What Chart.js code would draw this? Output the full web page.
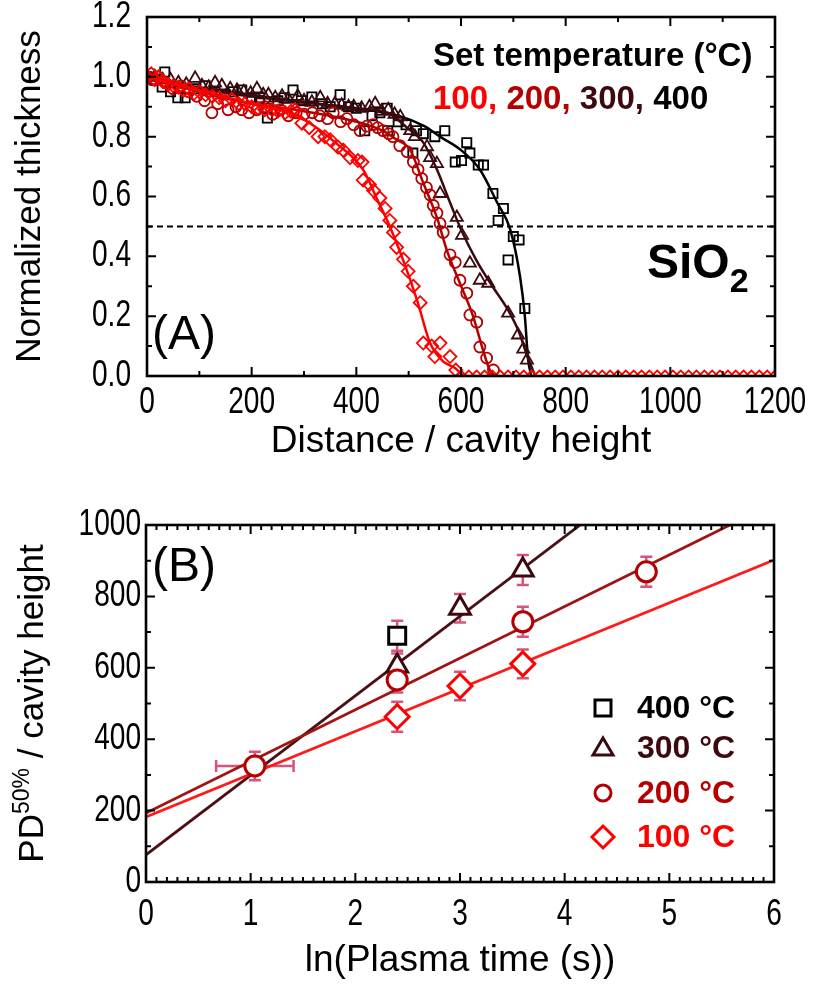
<!DOCTYPE html>
<html>
<head>
<meta charset="utf-8">
<script src="https://cdn.jsdelivr.net/npm/chart.js@4.4.0/dist/chart.umd.min.js"></script>
<style>
  html, body { margin: 0; padding: 0; background: #fff; }
  #wrapA { position: absolute; left: 0; top: 0; width: 819px; height: 470px; }
  #wrapB { position: absolute; left: 0; top: 470px; width: 819px; height: 522px; }
</style>
</head>
<body>
<div id="wrapA"><canvas id="chartA"></canvas></div>
<div id="wrapB"><canvas id="chartB"></canvas></div>
<script>
// -- Colours per set temperature --
const c100 = '#ff0000';
const c200 = '#b40000';
const c300 = '#3c0a0e';
const c400 = '#000000';
const cErr = 'rgba(205, 40, 90, 0.8)';

// -- Panel A: normalized thickness vs distance --
const a100X = [0, 8, 15, 22, 30, 40, 50, 60, 70, 80, 90, 100, 112, 125, 138, 150, 162, 175, 187, 200, 212, 225, 239, 250, 264, 275, 283, 296, 310, 327, 340, 350, 365, 375, 388, 403, 411, 413, 425, 433, 445, 455, 464, 471, 477, 490, 499, 509, 522, 528, 544, 550, 560, 579, 590];
const a100Y = [1.00, 1.01, 0.99, 1.00, 0.985, 0.975, 0.97, 0.965, 0.955, 0.96, 0.945, 0.95, 0.94, 0.935, 0.93, 0.92, 0.925, 0.91, 0.91, 0.90, 0.895, 0.89, 0.89, 0.885, 0.88, 0.885, 0.89, 0.845, 0.83, 0.80, 0.80, 0.79, 0.765, 0.755, 0.73, 0.72, 0.715, 0.655, 0.64, 0.62, 0.595, 0.56, 0.52, 0.48, 0.43, 0.39, 0.35, 0.30, 0.245, 0.11, 0.10, 0.065, 0.11, 0.065, 0.02];

const a200X = [0, 10, 20, 35, 50, 65, 80, 95, 110, 124, 135, 155, 170, 181, 195, 210, 225, 240, 255, 270, 285, 300, 316, 330, 345, 356, 370, 382, 395, 407, 420, 432, 441, 451, 462, 470, 483, 497, 509, 518, 525, 534, 541, 547, 554, 560, 566, 579, 589, 598, 611, 617, 630, 636, 649, 662];
const a200Y = [1.00, 0.99, 1.00, 0.98, 0.96, 0.97, 0.95, 0.935, 0.92, 0.88, 0.91, 0.89, 0.90, 0.89, 0.88, 0.89, 0.90, 0.875, 0.89, 0.87, 0.88, 0.875, 0.88, 0.87, 0.86, 0.88, 0.85, 0.86, 0.84, 0.82, 0.835, 0.84, 0.83, 0.82, 0.81, 0.80, 0.77, 0.75, 0.715, 0.69, 0.66, 0.63, 0.605, 0.57, 0.545, 0.51, 0.48, 0.405, 0.38, 0.32, 0.277, 0.204, 0.18, 0.097, 0.06, 0.02];

const a300X = [0, 15, 30, 45, 60, 75, 92, 105, 118, 130, 143, 159, 172, 185, 198, 210, 222, 232, 245, 258, 270, 288, 300, 315, 331, 345, 359, 372, 385, 395, 410, 425, 436, 448, 461, 473, 484, 503, 512, 535, 541, 554, 560, 592, 602, 617, 636, 652, 690, 709, 719, 726];
const a300Y = [1.00, 1.00, 0.99, 0.99, 0.98, 0.975, 0.995, 0.97, 0.965, 0.98, 0.97, 0.96, 0.955, 0.95, 0.945, 0.96, 0.94, 0.94, 0.93, 0.935, 0.925, 0.935, 0.92, 0.915, 0.93, 0.91, 0.91, 0.905, 0.90, 0.90, 0.895, 0.90, 0.91, 0.885, 0.89, 0.875, 0.866, 0.82, 0.80, 0.766, 0.73, 0.71, 0.61, 0.53, 0.47, 0.377, 0.32, 0.31, 0.21, 0.137, 0.09, 0.053];

const a400X = [0, 15, 29, 34, 45, 59, 73, 90, 111, 130, 150, 165, 181, 200, 215, 229, 230, 250, 262, 279, 295, 315, 335, 350, 369, 385, 400, 416, 430, 445, 459, 460, 480, 495, 508, 515, 528, 550, 569, 589, 601, 611, 617, 633, 643, 661, 671, 681, 690, 700, 711, 722];
const a400Y = [1.00, 0.99, 0.966, 1.016, 0.95, 0.93, 0.93, 0.96, 0.97, 0.95, 0.94, 0.95, 0.956, 0.93, 0.93, 0.895, 0.862, 0.92, 0.93, 0.956, 0.92, 0.933, 0.91, 0.90, 0.94, 0.90, 0.895, 0.82, 0.87, 0.88, 0.895, 0.82, 0.85, 0.84, 0.745, 0.82, 0.81, 0.80, 0.82, 0.715, 0.72, 0.78, 0.745, 0.705, 0.705, 0.61, 0.52, 0.56, 0.388, 0.466, 0.455, 0.226];

// fully etched region (points sitting on zero)
const zeroX = [600, 615, 630, 645, 660, 675, 690, 705, 720, 735, 750, 765, 780, 795, 810, 825, 840, 855, 870, 885, 900, 915, 930, 945, 960, 975, 990, 1005, 1020, 1035, 1050, 1065, 1080, 1095, 1110, 1125, 1140, 1155, 1170, 1185, 1200];
const zeroY = [0, 0, 0, 0, 0, 0, 0, 0, 0, 0, 0, 0, 0, 0, 0, 0, 0, 0, 0, 0, 0, 0, 0, 0, 0, 0, 0, 0, 0, 0, 0, 0, 0, 0, 0, 0, 0, 0, 0, 0, 0];

// fitted curves
const f100X = [0, 100, 200, 280, 320, 360, 413, 440, 464, 490, 516, 541, 565, 589, 605];
const f100Y = [1.0, 0.955, 0.91, 0.875, 0.835, 0.78, 0.69, 0.59, 0.50, 0.385, 0.254, 0.11, 0.05, 0.026, 0.0];
const f200X = [0, 100, 200, 300, 400, 450, 477, 503, 528, 554, 573, 598, 623, 642, 655, 665];
const f200Y = [1.0, 0.95, 0.91, 0.885, 0.85, 0.82, 0.79, 0.755, 0.645, 0.53, 0.42, 0.31, 0.20, 0.087, 0.02, 0.0];
const f300X = [0, 100, 200, 300, 400, 460, 497, 528, 554, 579, 600, 630, 660, 690, 710, 728, 742];
const f300Y = [1.0, 0.965, 0.94, 0.915, 0.895, 0.88, 0.83, 0.78, 0.69, 0.58, 0.49, 0.385, 0.30, 0.22, 0.15, 0.06, 0.0];
const f400X = [0, 100, 200, 300, 400, 480, 530, 560, 600, 636, 669, 694, 713, 722, 728, 734];
const f400Y = [1.0, 0.96, 0.935, 0.915, 0.895, 0.87, 0.835, 0.80, 0.755, 0.69, 0.58, 0.49, 0.33, 0.20, 0.06, 0.0];

const xTicksA = [0, 200, 400, 600, 800, 1000, 1200];
const xLabelsA = ['0', '200', '400', '600', '800', '1000', '1200'];
const yTicksA = [0, 0.2, 0.4, 0.6, 0.8, 1.0, 1.2];
const yLabelsA = ['0.0', '0.2', '0.4', '0.6', '0.8', '1.0', '1.2'];

// -- Panel B: PD50% vs ln(plasma time) --
const b400X = [2.4];
const b400Y = [690];
const b400E = [42];
const b300X = [2.4, 3.0, 3.6];
const b300Y = [605, 767, 874];
const b300E = [35, 40, 42];
const b200X = [1.04, 2.4, 3.6, 4.78];
const b200Y = [325, 566, 729, 869];
const b200E = [40, 35, 42, 42];
const b200XE = [0.37, 0, 0, 0];
const b100X = [2.4, 3.0, 3.6];
const b100Y = [463, 549, 611];
const b100E = [42, 40, 40];

// linear fits, endpoints at ln t = 0 and 6
const fitX = [0, 6];
const fit300Y = [76, 1413];
const fit200Y = [193, 1061];
const fit100Y = [182, 902];

const xTicksB = [0, 1, 2, 3, 4, 5, 6];
const xLabelsB = ['0', '1', '2', '3', '4', '5', '6'];
const yTicksB = [0, 200, 400, 600, 800, 1000];
const yLabelsB = ['0', '200', '400', '600', '800', '1000'];

const legendB = ['400 °C', '300 °C', '200 °C', '100 °C'];

// -- Fonts --
const SANS = "'Liberation Sans', Arial, sans-serif";
const titleFont = { family: SANS, size: 37 };
const TICK_FONT = '36px ' + SANS;
const TICK_SQUEEZE = 0.78; // narrow digits like the original

function pts(xs, ys) {
    return xs.map((x, i) => ({ x: x, y: ys[i] }));
}

function minorTicks(min, max, step, majors) {
    const out = [];
    for (let v = min; v <= max + 1e-9; v += step) {
        const r = Math.round(v * 1000) / 1000;
        if (!majors.some(m => Math.abs(m - r) < 1e-6)) out.push(r);
    }
    return out;
}

function squeezedText(ctx, text, x, y, align) {
    ctx.save();
    ctx.translate(x, y);
    ctx.scale(TICK_SQUEEZE, 1);
    ctx.textAlign = align;
    ctx.fillText(text, 0, 0);
    ctx.restore();
}

// frame with inward ticks on all four sides, plus tick labels
function framePlugin(cfg) {
    return {
        id: 'frame',
        afterDatasetsDraw(chart) {
            const { ctx, chartArea: a, scales } = chart;
            const sx = scales.x, sy = scales.y;
            ctx.save();
            ctx.strokeStyle = '#000';
            ctx.lineWidth = 2;
            ctx.beginPath();
            const vt = (v, len) => {
                const p = sx.getPixelForValue(v);
                ctx.moveTo(p, a.bottom); ctx.lineTo(p, a.bottom - len);
                ctx.moveTo(p, a.top); ctx.lineTo(p, a.top + len);
            };
            const ht = (v, len) => {
                const p = sy.getPixelForValue(v);
                ctx.moveTo(a.left, p); ctx.lineTo(a.left + len, p);
                ctx.moveTo(a.right, p); ctx.lineTo(a.right - len, p);
            };
            cfg.xMaj.forEach(v => vt(v, 9));
            cfg.xMin.forEach(v => vt(v, 5));
            cfg.yMaj.forEach(v => ht(v, 9));
            cfg.yMin.forEach(v => ht(v, 5));
            ctx.stroke();
            ctx.lineWidth = 2.6;
            ctx.strokeRect(a.left, a.top, a.right - a.left, a.bottom - a.top);

            ctx.fillStyle = '#000';
            ctx.font = TICK_FONT;
            ctx.textBaseline = 'middle';
            cfg.xMaj.forEach((v, i) => {
                squeezedText(ctx, cfg.xLab[i], sx.getPixelForValue(v), a.bottom + cfg.xGap, 'center');
            });
            cfg.yMaj.forEach((v, i) => {
                squeezedText(ctx, cfg.yLab[i], a.left - cfg.yGap, sy.getPixelForValue(v), 'right');
            });
            ctx.restore();
        }
    };
}

function fixedTicks(values) {
    return function (axis) { axis.ticks = values.map(v => ({ value: v })); };
}

function marker(color, style, r, bw, fill) {
    return {
        showLine: false,
        pointStyle: style,
        pointRadius: r,
        pointBorderWidth: bw,
        pointBorderColor: color,
        pointBackgroundColor: fill,
        borderColor: color,
        backgroundColor: fill
    };
}

function fitLine(color, width, smooth) {
    return {
        showLine: true,
        pointRadius: 0,
        borderColor: color,
        borderWidth: width,
        cubicInterpolationMode: smooth ? 'monotone' : 'default',
        fill: false
    };
}

// -- Panel A --
const annotA = {
    id: 'annotA',
    beforeDatasetsDraw(chart) {
        const { ctx, chartArea: a, scales } = chart;
        const py = scales.y.getPixelForValue(0.5);
        ctx.save();
        ctx.strokeStyle = '#000';
        ctx.lineWidth = 2;
        ctx.setLineDash([6, 4]);
        ctx.beginPath();
        ctx.moveTo(a.left, py);
        ctx.lineTo(a.right, py);
        ctx.stroke();
        ctx.restore();
    },
    afterDraw(chart) {
        const ctx = chart.ctx;
        ctx.save();
        ctx.textBaseline = 'alphabetic';
        ctx.textAlign = 'left';
        ctx.fillStyle = '#000';
        ctx.font = 'bold 33px ' + SANS;
        ctx.fillText('Set temperature (°C)', 433, 66);
        const parts = [['100, ', c100], ['200, ', c200], ['300, ', c300], ['400', c400]];
        let x = 433;
        parts.forEach(p => {
            ctx.fillStyle = p[1];
            ctx.fillText(p[0], x, 109);
            x += ctx.measureText(p[0]).width;
        });
        ctx.fillStyle = '#000';
        ctx.font = 'bold 48px ' + SANS;
        ctx.fillText('SiO', 647, 278);
        const w = ctx.measureText('SiO').width;
        ctx.font = 'bold 34px ' + SANS;
        ctx.fillText('2', 647 + w, 292);
        ctx.font = '48px ' + SANS;
        ctx.fillText('(A)', 152, 349);
        ctx.restore();
    }
};

new Chart(document.getElementById('chartA'), {
    type: 'scatter',
    data: {
        datasets: [
            Object.assign({ data: pts(zeroX, zeroY) }, marker(c100, 'rectRot', 5.5, 1.8, 'rgba(0,0,0,0)')),
            Object.assign({ data: pts(a100X, a100Y) }, marker(c100, 'rectRot', 6.5, 1.8, 'rgba(0,0,0,0)')),
            Object.assign({ data: pts(f100X, f100Y) }, fitLine(c100, 2.5, true)),
            Object.assign({ data: pts(a200X, a200Y) }, marker(c200, 'circle', 5.5, 1.8, 'rgba(0,0,0,0)')),
            Object.assign({ data: pts(f200X, f200Y) }, fitLine(c200, 2.5, true)),
            Object.assign({ data: pts(a300X, a300Y) }, marker(c300, 'triangle', 7, 1.8, 'rgba(0,0,0,0)')),
            Object.assign({ data: pts(f300X, f300Y) }, fitLine(c300, 2.5, true)),
            Object.assign({ data: pts(a400X, a400Y) }, marker(c400, 'rect', 6.5, 1.8, 'rgba(0,0,0,0)')),
            Object.assign({ data: pts(f400X, f400Y) }, fitLine(c400, 2.5, true))
        ]
    },
    options: {
        responsive: true,
        maintainAspectRatio: false,
        animation: false,
        devicePixelRatio: 1,
        layout: { padding: { left: 0, right: 44, top: 17, bottom: 0 } },
        plugins: { legend: { display: false }, tooltip: { enabled: false } },
        scales: {
            x: {
                type: 'linear', min: 0, max: 1200,
                afterBuildTicks: fixedTicks(xTicksA),
                afterFit: s => { s.height = 94; },
                grid: { display: false },
                border: { display: false },
                ticks: { display: false },
                title: { display: true, text: 'Distance / cavity height', font: titleFont, color: '#000',
                    padding: { top: 0, bottom: 6 } }
            },
            y: {
                type: 'linear', min: 0, max: 1.2,
                afterBuildTicks: fixedTicks(yTicksA),
                afterFit: s => { s.width = 147; },
                grid: { display: false },
                border: { display: false },
                ticks: { display: false },
                title: { display: true, text: 'Normalized thickness', font: { family: SANS, size: 35 }, color: '#000',
                    padding: { top: 9, bottom: 0 } }
            }
        }
    },
    plugins: [annotA, framePlugin({
        xMaj: xTicksA, xMin: minorTicks(0, 1200, 100, xTicksA), xLab: xLabelsA, xGap: 27,
        yMaj: yTicksA, yMin: minorTicks(0, 1.2, 0.1, yTicksA), yLab: yLabelsA, yGap: 16
    })]
});

// -- Panel B --
const seriesB = [
    { xs: b400X, ys: b400Y, es: b400E, xe: null },
    { xs: b300X, ys: b300Y, es: b300E, xe: null },
    { xs: b200X, ys: b200Y, es: b200E, xe: b200XE },
    { xs: b100X, ys: b100Y, es: b100E, xe: null }
];

const errorBars = {
    id: 'errorBars',
    beforeDatasetsDraw(chart) {
        const { ctx, scales } = chart;
        const sx = scales.x, sy = scales.y;
        ctx.save();
        ctx.strokeStyle = cErr;
        ctx.lineWidth = 2.5;
        ctx.beginPath();
        seriesB.forEach(s => {
            s.xs.forEach((x, i) => {
                const px = sx.getPixelForValue(x);
                const py = sy.getPixelForValue(s.ys[i]);
                const top = sy.getPixelForValue(s.ys[i] + s.es[i]);
                const bot = sy.getPixelForValue(s.ys[i] - s.es[i]);
                ctx.moveTo(px, top); ctx.lineTo(px, bot);
                ctx.moveTo(px - 6, top); ctx.lineTo(px + 6, top);
                ctx.moveTo(px - 6, bot); ctx.lineTo(px + 6, bot);
                if (s.xe && s.xe[i] > 0) {
                    const l = sx.getPixelForValue(x - s.xe[i]);
                    const r = sx.getPixelForValue(x + s.xe[i]);
                    ctx.moveTo(l, py); ctx.lineTo(r, py);
                    ctx.moveTo(l, py - 6); ctx.lineTo(l, py + 6);
                    ctx.moveTo(r, py - 6); ctx.lineTo(r, py + 6);
                }
            });
        });
        ctx.stroke();
        ctx.restore();
    }
};

const annotB = {
    id: 'annotB',
    afterDraw(chart) {
        const { ctx, chartArea: a } = chart;
        ctx.save();
        ctx.fillStyle = '#000';
        ctx.textAlign = 'left';
        ctx.textBaseline = 'alphabetic';
        ctx.font = '48px ' + SANS;
        ctx.fillText('(B)', 152, 111);

        // y-axis title with superscript
        const big = '35px ' + SANS, small = '23px ' + SANS;
        ctx.font = big;
        const w1 = ctx.measureText('PD').width;
        const w3 = ctx.measureText(' / cavity height').width;
        ctx.font = small;
        const w2 = ctx.measureText('50%').width;
        const total = w1 + w2 + w3;
        ctx.translate(43, (a.top + a.bottom) / 2);
        ctx.rotate(-Math.PI / 2);
        let x = -total / 2;
        ctx.font = big; ctx.fillText('PD', x, 0); x += w1;
        ctx.font = small; ctx.fillText('50%', x, -14); x += w2;
        ctx.font = big; ctx.fillText(' / cavity height', x, 0);
        ctx.setTransform(1, 0, 0, 1, 0, 0);

        // legend
        const colors = [c400, c300, c200, c100];
        const rows = [238, 278, 323, 367];
        ctx.lineWidth = 3;
        rows.forEach((ry, i) => {
            ctx.strokeStyle = colors[i];
            const cx = 603;
            ctx.beginPath();
            if (i === 0) ctx.rect(cx - 8, ry - 8, 16, 16);
            if (i === 1) { ctx.moveTo(cx, ry - 10); ctx.lineTo(cx + 10, ry + 7); ctx.lineTo(cx - 10, ry + 7); ctx.closePath(); }
            if (i === 2) ctx.arc(cx, ry, 8, 0, Math.PI * 2);
            if (i === 3) { ctx.moveTo(cx, ry - 11); ctx.lineTo(cx + 11, ry); ctx.lineTo(cx, ry + 11); ctx.lineTo(cx - 11, ry); ctx.closePath(); }
            ctx.stroke();
            ctx.fillStyle = colors[i];
            ctx.font = 'bold 32px ' + SANS;
            ctx.textBaseline = 'middle';
            ctx.fillText(legendB[i], 637, ry + 1);
        });
        ctx.restore();
    }
};

new Chart(document.getElementById('chartB'), {
    type: 'scatter',
    data: {
        datasets: [
            Object.assign({ data: pts(b100X, b100Y) }, marker(c100, 'rectRot', 12, 3, '#fff')),
            Object.assign({ data: pts(b200X, b200Y) }, marker(c200, 'circle', 10, 3, '#fff')),
            Object.assign({ data: pts(b300X, b300Y) }, marker(c300, 'triangle', 12, 3, '#fff')),
            Object.assign({ data: pts(b400X, b400Y) }, marker(c400, 'rect', 12, 3, '#fff')),
            Object.assign({ data: pts(fitX, fit100Y) }, fitLine('#ff1a1a', 2.8, false)),
            Object.assign({ data: pts(fitX, fit200Y) }, fitLine('#a01414', 2.8, false)),
            Object.assign({ data: pts(fitX, fit300Y) }, fitLine('#4a1014', 2.8, false))
        ]
    },
    options: {
        responsive: true,
        maintainAspectRatio: false,
        animation: false,
        devicePixelRatio: 1,
        layout: { padding: { left: 0, right: 45, top: 55, bottom: 0 } },
        plugins: { legend: { display: false }, tooltip: { enabled: false } },
        scales: {
            x: {
                type: 'linear', min: 0, max: 6,
                afterBuildTicks: fixedTicks(xTicksB),
                afterFit: s => { s.height = 110; },
                grid: { display: false },
                border: { display: false },
                ticks: { display: false },
                title: { display: true, text: 'ln(Plasma time (s))', font: titleFont, color: '#000',
                    padding: { top: 0, bottom: 9 } }
            },
            y: {
                type: 'linear', min: 0, max: 1000,
                afterBuildTicks: fixedTicks(yTicksB),
                afterFit: s => { s.width = 146; },
                grid: { display: false },
                border: { display: false },
                ticks: { display: false },
                title: { display: false }
            }
        }
    },
    plugins: [errorBars, annotB, framePlugin({
        xMaj: xTicksB, xMin: minorTicks(0, 6, 0.1, xTicksB), xLab: xLabelsB, xGap: 33,
        yMaj: yTicksB, yMin: minorTicks(0, 1000, 100, yTicksB), yLab: yLabelsB, yGap: 5
    })]
});
</script>
</body>
</html>
